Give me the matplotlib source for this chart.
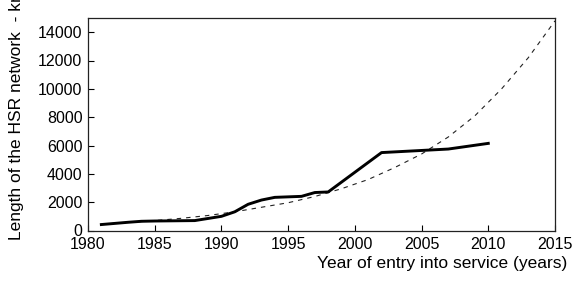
import matplotlib
matplotlib.use("Agg")
import matplotlib.pyplot as plt

plt.rcParams['font.family'] = ['Liberation Sans', 'DejaVu Sans']

# Observed HSR network length (solid line)
obs_years = [1981, 1983, 1984, 1985, 1988, 1989, 1990, 1991, 1992, 1993, 1994, 1996, 1997, 1998, 2002, 2007, 2010]
obs_km    = [420, 580, 650, 670, 700, 850, 1000, 1320, 1850, 2150, 2340, 2410, 2680, 2720, 5500, 5750, 6150]

# Trend curve (dashed line)
trend_years = [1981, 1983, 1985, 1987, 1989, 1991, 1993, 1995, 1997, 1999, 2001, 2003, 2005, 2007, 2009, 2011, 2013, 2015]
trend_km    = [450, 560, 700, 860, 1060, 1320, 1640, 1960, 2400, 2950, 3600, 4450, 5400, 6600, 8100, 10000, 12200, 14800]

x_ticks = [1980, 1985, 1990, 1995, 2000, 2005, 2010, 2015]
y_ticks = [0, 2000, 4000, 6000, 8000, 10000, 12000, 14000]

fig = plt.figure(figsize=(5.81, 2.87), dpi=100)
ax = fig.add_axes([88/581, 1-230.5/287, (555-88)/581, (230.5-18)/287])

ax.plot(trend_years, trend_km, color='#222222', lw=0.8, dashes=(4, 4.5))
ax.plot(obs_years, obs_km, color='black', lw=2.1, solid_joinstyle='round')

ax.set_xlim(1980, 2015)
ax.set_ylim(0, 15000)
ax.set_xticks(x_ticks)
ax.set_yticks(y_ticks)
ax.tick_params(direction='in', length=4, width=0.8, labelsize=11.5)
ax.tick_params(axis='x', pad=4.5)
ax.tick_params(axis='y', pad=4.0)
for s in ax.spines.values():
    s.set_linewidth(0.9)
    s.set_color('#222222')

fig.text(17/581, 1-240/287, 'Length of the HSR network  - km', rotation=90,
         ha='center', va='bottom', fontsize=12.5)
fig.text(567/581, 1-263.5/287, 'Year of entry into service (years)',
         ha='right', va='center', fontsize=12.5)

fig.savefig('out.png', dpi=100)
